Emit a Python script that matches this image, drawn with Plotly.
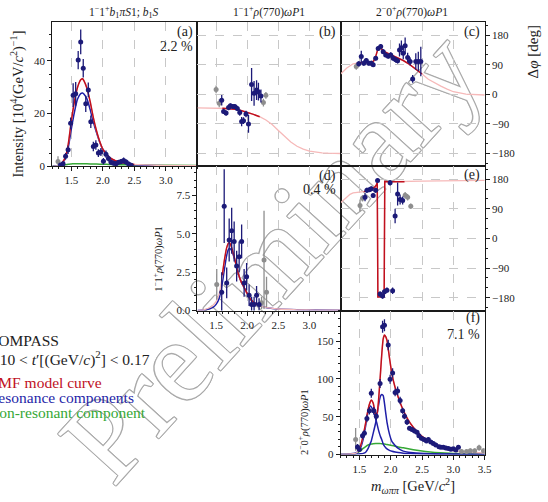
import plotly.graph_objects as go

# ---------------- measured points (mass bin centre, value, error) ----------------
# (a) 1-1+ b1 pi S1 intensity  [10^4 (GeV/c^2)^-1]
a_mass = [1.29, 1.33, 1.37, 1.41, 1.45, 1.49, 1.53, 1.57, 1.61, 1.65, 1.69, 1.73, 1.77, 1.81, 1.85,
          1.89, 1.93, 1.97, 2.01, 2.05, 2.09, 2.13, 2.17, 2.21, 2.25, 2.29, 2.33, 2.37, 2.41, 2.45]
a_int = [1.8, 0.5, 1.0, 3.8, 6.3, 16.3, 27.0, 27.5, 40.3, 47.2, 37.2, 23.7, 29.0, 16.9, 7.5,
         8.1, 5.0, 5.4, 1.9, 4.6, 3.0, 1.5, 1.2, 1.0, 1.5, 1.8, 2.2, 1.6, 0.9, 0.4]
a_err = [2.0, 0.6, 0.8, 1.2, 1.6, 2.2, 4.5, 4.5, 3.5, 4.7, 3.5, 3.1, 2.8, 2.4, 1.8,
         1.8, 1.5, 1.5, 1.2, 1.4, 1.2, 1.0, 0.9, 0.9, 0.9, 1.0, 1.1, 1.0, 0.8, 0.6]

# (b) phase 1-1+ rho omega P1 vs 1-1+ b1 pi S1  [deg]
b_mass = [1.50, 1.55, 1.59, 1.62, 1.66, 1.70, 1.73, 1.77, 1.80, 1.84, 1.88,
          1.91, 1.94, 1.98, 2.02, 2.07, 2.11, 2.15, 2.18, 2.22, 2.26, 2.30]
b_phase = [15, -27, -18, -52, -57, -40, -35, -37, -37, -43, -55,
           -83, -80, -60, -90, 30, 3, 13, 8, -5, -25, -3]
b_err = [12, 12, 16, 8, 8, 8, 7, 7, 7, 8, 10,
         14, 10, 10, 27, 50, 38, 30, 27, 20, 12, 10]

# (c) phase 2-0+ rho omega P1 vs 1-1+ b1 pi S1  [deg]
c_mass = [1.45, 1.49, 1.53, 1.57, 1.61, 1.65, 1.69, 1.72, 1.76, 1.80, 1.84, 1.88, 1.92, 1.96,
          2.00, 2.04, 2.08, 2.11, 2.14, 2.17, 2.20, 2.23, 2.27, 2.31, 2.35, 2.40, 2.44, 2.48]
c_phase = [85, 93, 115, 95, 103, 95, 95, 90, 110, 140, 146, 130, 120, 116,
           120, 110, 105, 102, 135, 142, 125, 148, 112, 100, 47, 100, 100, 100]
c_err = [10, 8, 18, 8, 8, 7, 7, 7, 7, 7, 7, 7, 7, 7,
         8, 8, 8, 8, 20, 22, 18, 25, 15, 12, 12, 25, 30, 45]

# (d) 1-1+ rho omega P1 intensity
d_mass = [1.51, 1.59, 1.63, 1.67, 1.71, 1.75, 1.79, 1.83, 1.87, 1.91,
          1.95, 1.99, 2.03, 2.07, 2.11, 2.15, 2.19, 2.23, 2.27, 2.31]
d_int = [1.7, 1.2, 6.8, 1.8, 4.6, 5.2, 4.5, 2.9, 3.5, 4.5,
         1.8, 2.2, 1.0, 0.4, 0.4, 1.0, 0.4, 0.5, 3.3, 1.2]
d_err = [1.0, 1.3, 2.4, 1.0, 1.4, 1.5, 1.3, 1.0, 1.0, 1.1,
         0.9, 0.9, 0.7, 0.5, 0.5, 0.6, 0.4, 0.4, 3.2, 1.0]

# (e) phase 2-0+ rho omega P1 vs 1-1+ rho omega P1  [deg]
e_mass = [1.51, 1.55, 1.59, 1.62, 1.66, 1.69, 1.72, 1.76, 1.79, 1.83, 1.87,
          1.90, 1.94, 1.99, 2.03, 2.07, 2.11, 2.15, 2.19, 2.23, 2.27, 2.32]
e_phase = [100, 122, 125, 146, 148, 151, 130, 146, 176, -169, -175,
           -162, -157, 169, -159, 68, 135, 118, 115, 131, 125, 98]
e_err = [18, 10, 12, 8, 7, 7, 7, 7, 6, 8, 8,
         8, 8, 8, 10, 22, 35, 15, 12, 10, 10, 8]

# (f) 2-0+ rho omega P1 intensity
f_mass = [1.44, 1.47, 1.50, 1.55, 1.58, 1.62, 1.66, 1.69, 1.73, 1.77,
          1.83, 1.87, 1.90, 1.96, 1.99, 2.03, 2.07, 2.11, 2.15, 2.19,
          2.22, 2.26, 2.30, 2.34, 2.38, 2.42, 2.45, 2.49, 2.53, 2.57,
          2.60, 2.64, 2.68, 2.72, 2.77, 2.80, 2.84, 2.88, 2.92, 2.96,
          3.00, 3.04, 3.08, 3.13, 3.21, 3.27, 3.34, 3.41, 3.48]
f_int = [20, 10, 6.5, 24.7, 28, 47.6, 58, 81, 58, 50.6,
         94, 169, 171, 145, 99.6, 108, 82, 84, 71.4, 58,
         50.6, 43, 34.6, 33, 31, 29.4, 24.7, 21.6, 20, 18,
         20, 16.5, 14.7, 12.5, 10.4, 9.5, 9.5, 8.6, 7.8, 6.9,
         7.5, 6.0, 9.5, 4, 4, 5, 5, 9, 5]
f_err = [15, 4, 3, 4, 4, 5, 5, 6, 5, 5,
         6, 8, 8, 7, 6, 6, 5, 6, 5, 4,
         4, 4, 3, 3, 3, 3, 3, 3, 2.5, 2.5,
         2.5, 2.5, 2.5, 2, 2, 2, 2, 2, 2, 2,
         2, 2, 2, 3, 3, 3, 3, 4, 3]

# fit ranges of the three waves [GeV/c^2]
range_a = (1.31, 2.50)
range_d = (1.57, 2.22)
range_f = (1.46, 3.10)

# ---------------- model curves ----------------
a_grid = [1.20, 1.25, 1.30, 1.35, 1.40, 1.45, 1.50, 1.55, 1.60, 1.65, 1.68, 1.70, 1.75,
          1.80, 1.85, 1.90, 1.95, 2.00, 2.10, 2.20, 2.30, 2.40, 2.50, 2.70, 3.00, 3.50]
a_model = [0.0, 0.1, 0.4, 1.2, 3.0, 8.0, 17.0, 24.5, 30.0, 32.8, 33.2, 32.5, 29.5,
           24.5, 18.5, 13.5, 9.5, 6.5, 3.5, 2.1, 1.4, 1.0, 0.7, 0.5, 0.3, 0.2]
a_reson = [0.0, 0.1, 0.3, 1.0, 2.6, 6.8, 14.0, 20.5, 25.5, 27.6, 27.8, 27.4, 25.5,
           21.5, 16.8, 12.8, 9.2, 6.5, 3.4, 2.0, 1.3, 0.9, 0.6, 0.35, 0.2, 0.1]
a_nonres = [0.0, 0.05, 0.2, 0.4, 0.6, 0.8, 0.9, 1.0, 1.0, 1.0, 1.0, 1.0, 0.95,
            0.9, 0.9, 0.85, 0.8, 0.8, 0.7, 0.65, 0.6, 0.55, 0.5, 0.45, 0.4, 0.3]

b_grid = [1.20, 1.30, 1.40, 1.50, 1.60, 1.70, 1.80, 1.90, 2.00, 2.10, 2.20, 2.30,
          2.40, 2.50, 2.60, 2.70, 2.80, 2.90, 3.00, 3.10, 3.20, 3.30, 3.40, 3.50]
b_model = [-41, -41, -41, -41, -42, -43, -45, -49, -54, -61, -68, -78,
           -92, -110, -128, -145, -158, -167, -173, -176, -178, -179, -180, -180]

c_grid = [1.20, 1.30, 1.40, 1.46, 1.50, 1.55, 1.60, 1.65, 1.70, 1.73, 1.76, 1.79, 1.82, 1.86,
          1.90, 2.00, 2.10, 2.20, 2.30, 2.40, 2.50, 2.60, 2.70, 2.80, 2.90, 3.00, 3.20, 3.50]
c_model = [62, 80, 93, 96, 96, 96, 96, 97, 98, 102, 115, 135, 143, 137,
           130, 121, 112, 103, 91, 77, 62, 46, 35, 25, 16, 8, 1, -2]

d_grid = [1.20, 1.30, 1.40, 1.45, 1.50, 1.55, 1.60, 1.63, 1.67, 1.70, 1.72, 1.75, 1.80,
          1.85, 1.90, 1.95, 2.00, 2.05, 2.10, 2.15, 2.22, 2.30, 2.50, 2.80, 3.10, 3.50]
d_model = [0.0, 0.05, 0.2, 0.35, 0.6, 1.1, 2.3, 3.2, 4.1, 4.4, 4.4, 4.1, 3.35,
           2.5, 1.9, 1.5, 1.1, 0.75, 0.55, 0.4, 0.3, 0.2, 0.1, 0.05, 0.03, 0.02]
d_reson = [0.0, 0.03, 0.12, 0.2, 0.4, 0.8, 1.8, 2.6, 3.6, 4.0, 4.05, 3.9, 3.3,
           2.5, 1.9, 1.5, 1.1, 0.75, 0.55, 0.4, 0.3, 0.2, 0.1, 0.05, 0.03, 0.02]

e_grid = [1.20, 1.25, 1.30, 1.35, 1.40, 1.50, 1.57, 1.60, 1.65, 1.70, 1.74, 1.77, 1.785, 1.795,
          1.82, 1.86, 1.895, 1.905, 1.95, 2.00, 2.10, 2.22, 2.30, 2.50, 2.80, 3.10, 3.50]
e_model = [108, 117, 127, 134, 138, 140, 142, 143, 146, 150, 155, 162, 170, -178,
           -177, -177, -177, 173, 172, 172, 172, 172, 173, 174, 175, 176, 176]

f_grid = [1.20, 1.30, 1.40, 1.45, 1.48, 1.52, 1.56, 1.60, 1.64, 1.67, 1.69, 1.72, 1.76, 1.78,
          1.80, 1.82, 1.84, 1.86, 1.88, 1.90, 1.92, 1.94, 1.98, 2.02, 2.07, 2.12, 2.20, 2.28,
          2.36, 2.47, 2.63, 2.79, 2.94, 3.05, 3.20, 3.50]
f_model = [0, 0.3, 1.0, 2.0, 4.5, 12, 25, 42, 60, 69, 72, 68, 53, 54,
           66, 88, 112, 136, 153, 158, 156, 151, 128, 106, 88.7, 75.7, 58.4, 45.5,
           36, 26, 17.3, 10.8, 6.5, 4.4, 3.2, 2.0]
f_res1 = [0, 0.3, 1.2, 2.5, 4, 9, 20, 38, 57, 64, 63, 58, 47, 41,
          34, 28, 23, 19, 14, 11, 9, 7.5, 5.5, 4.2, 3.2, 2.5, 1.8, 1.4,
          1.1, 0.8, 0.5, 0.35, 0.25, 0.2, 0.15, 0.1]
f_res2 = [0, 0.1, 0.3, 0.5, 0.7, 1, 1.5, 3, 8, 14, 18, 28, 42, 52,
          62, 72, 78, 79.5, 78, 68, 55, 43, 27, 17, 12, 8, 4.5, 3,
          2.2, 1.6, 1, 0.7, 0.5, 0.4, 0.3, 0.2]
f_nonres = [0, 0, 0.5, 1.5, 3, 5, 8, 10.5, 12.5, 13.3, 13.8, 14.2, 14.5, 14.6,
            14.6, 14.5, 14.4, 14.2, 14, 13.8, 13.5, 13.2, 12.6, 11.9, 11, 10, 8.8, 7.6,
            6.4, 5, 3.4, 2.3, 1.6, 1.2, 0.8, 0.4]

# ---------------- styling ----------------
W, H = 548, 502
SERIF = "Liberation Serif"
NAVY = "#1c1a78"
GRAY = "#8e8e8e"
RED = "#c0101e"
PINK = "#f6b9b9"
BLUE = "#1f1fa8"
GREEN = "#36a836"
FRAME = "#1a1a1a"


def px(x, y):
    return x / W, 1 - y / H


# panel edges in pixels
col_px = {1: (53, 200), 2: (200, 345), 3: (345, 491)}
row_px = {1: (22.7, 168.3), 2: (168.3, 314.3), 3: (314.3, 460)}

fig = go.Figure()


def intersect(r1, r2):
    return max(r1[0], r2[0]), min(r1[1], r2[1])


def add_points(mass, vals, errs, rng, ax):
    xa, ya = ax
    for inside, color in ((False, GRAY), (True, NAVY)):
        sel = [i for i, m in enumerate(mass) if (rng[0] <= m <= rng[1]) == inside]
        fig.add_trace(go.Scatter(
            x=[mass[i] for i in sel], y=[vals[i] for i in sel], mode="markers",
            marker=dict(color=color, size=5),
            error_y=dict(type="data", array=[errs[i] for i in sel], color=color,
                         thickness=1.3, width=0),
            xaxis=xa, yaxis=ya, showlegend=False, cliponaxis=True))


def add_curve(grid, vals, color, ax, shape="spline", width=1.5):
    xa, ya = ax
    fig.add_trace(go.Scatter(x=grid, y=vals, mode="lines",
                             line=dict(color=color, width=width, shape=shape, smoothing=0.6),
                             xaxis=xa, yaxis=ya, showlegend=False))


def add_model(grid, vals, rng, ax, shape="spline"):
    add_curve(grid, vals, PINK, ax, shape, 1.3)
    sel = [i for i, m in enumerate(grid) if rng[0] - 1e-9 <= m <= rng[1] + 1e-9]
    add_curve([grid[i] for i in sel], [vals[i] for i in sel], RED, ax, shape, 1.5)


AX = {"a": ("x", "y"), "b": ("x2", "y2"), "c": ("x3", "y3"),
      "d": ("x4", "y4"), "e": ("x5", "y5"), "f": ("x6", "y6")}

# (a)
add_curve(a_grid, a_nonres, GREEN, AX["a"])
add_curve(a_grid, a_reson, BLUE, AX["a"])
add_model(a_grid, a_model, range_a, AX["a"])
add_points(a_mass, a_int, a_err, range_a, AX["a"])
# (b)
add_model(b_grid, b_model, intersect(range_a, range_d), AX["b"], "linear")
add_points(b_mass, b_phase, b_err, intersect(range_a, range_d), AX["b"])
# (c)
add_model(c_grid, c_model, intersect(range_a, range_f), AX["c"], "linear")
add_points(c_mass, c_phase, c_err, intersect(range_a, range_f), AX["c"])
# (d)
add_curve(d_grid, d_reson, BLUE, AX["d"])
add_model(d_grid, d_model, range_d, AX["d"])
add_points(d_mass, d_int, d_err, range_d, AX["d"])
# (e)
add_model(e_grid, e_model, intersect(range_d, range_f), AX["e"], "linear")
add_points(e_mass, e_phase, e_err, intersect(range_d, range_f), AX["e"])
# (f)
add_curve(f_grid, f_nonres, GREEN, AX["f"])
add_curve(f_grid, f_res1, BLUE, AX["f"])
add_curve(f_grid, f_res2, BLUE, AX["f"])
add_model(f_grid, f_model, range_f, AX["f"])
add_points(f_mass, f_int, f_err, range_f, AX["f"])

# ---------------- axes ----------------
tick_font = dict(family=SERIF, size=11, color="#222")
mass_ticks = [1.5, 2.0, 2.5, 3.0]
phase_ticks = [-180, -90, 0, 90, 180]


def base_axis(domain):
    return dict(domain=domain, showline=True, mirror=True, linecolor=FRAME, linewidth=1,
                zeroline=False, tickfont=tick_font, ticks="outside", ticklen=4,
                tickwidth=1, tickcolor=FRAME, gridcolor="#c8c8c8", griddash="dash",
                gridwidth=1)


def x_axis(col, anchor, labels, vals=mass_ticks):
    d = base_axis([col_px[col][0] / W, col_px[col][1] / W])
    d.update(range=[1.2, 3.5], anchor=anchor, tickmode="array", tickvals=vals,
             ticktext=[f"{v:.1f}" for v in vals], showgrid=True, showticklabels=labels)
    if labels:
        d["minor"] = dict(tickmode="linear", tick0=1.2, dtick=0.1, ticks="outside",
                          ticklen=2, tickcolor=FRAME, showgrid=False)
    else:
        d["ticks"] = ""
    return d


def y_axis(row, anchor, rng, vals, text, minor, side="left", labels=True, grid=False):
    d = base_axis([1 - row_px[row][1] / H, 1 - row_px[row][0] / H])
    d.update(range=rng, anchor=anchor, side=side, tickmode="array", tickvals=vals,
             ticktext=text, showgrid=grid, showticklabels=labels)
    if labels:
        d["minor"] = dict(tickmode="linear", tick0=0, dtick=minor, ticks="outside",
                          ticklen=2, tickcolor=FRAME, showgrid=False)
    else:
        d["ticks"] = ""
    return d


phase_text = ["\u2212180", "\u221290", "0", "90", "180"]
phase_rng = [-219, 219]

fig.update_layout(
    xaxis=x_axis(1, "y", True),
    yaxis=y_axis(1, "x", [0, 54.6], [0, 20, 40], ["0", "20", "40"], 5),
    xaxis2=x_axis(2, "y2", False),
    yaxis2=y_axis(1, "x2", phase_rng, phase_ticks, phase_text, 30, labels=False, grid=True),
    xaxis3=x_axis(3, "y3", False),
    yaxis3=y_axis(1, "x3", phase_rng, phase_ticks, phase_text, 30, side="right", grid=True),
    xaxis4=x_axis(2, "y4", True),
    yaxis4=y_axis(2, "x4", [0, 9.4], [0, 2.5, 5, 7.5], ["0.0", "2.5", "5.0", "7.5"], 0.5),
    xaxis5=x_axis(3, "y5", False),
    yaxis5=y_axis(2, "x5", phase_rng, phase_ticks, phase_text, 30, side="right", grid=True),
    xaxis6=x_axis(3, "y6", True, [1.5, 2.0, 2.5, 3.0, 3.5]),
    yaxis6=y_axis(3, "x6", [0, 190.5], [0, 50, 100, 150], ["0", "50", "100", "150"], 10),
)

# ---------------- text ----------------
ann = []


def text(x, y, s, size=11, color="#222", xanchor="center", angle=0, yanchor="middle"):
    xp, yp = px(x, y)
    ann.append(dict(x=xp, y=yp, xref="paper", yref="paper", text=s, showarrow=False,
                    xanchor=xanchor, yanchor=yanchor, textangle=angle,
                    font=dict(family=SERIF, size=size, color=color)))


wave_a = "1<sup>\u2212</sup>1<sup>+</sup><i>b</i><sub>1</sub><i>\u03c0S</i>1; <i>b</i><sub>1</sub><i>S</i>"
wave_d = "1<sup>\u2212</sup>1<sup>+</sup><i>\u03c1</i>(770)<i>\u03c9P</i>1"
wave_f = "2<sup>\u2212</sup>0<sup>+</sup><i>\u03c1</i>(770)<i>\u03c9P</i>1"

text(126, 12, wave_a, 11.5)
text(272, 12, wave_d, 11.5)
text(417, 12, wave_f, 11.5)

text(198, 32, "(a)", 14, xanchor="right")
text(198, 47, "2.2 %", 14, xanchor="right")
text(342, 32, "(b)", 14, xanchor="right")
text(488, 32, "(c)", 14, xanchor="right")
text(342, 178, "(d)", 14, xanchor="right")
text(342, 192, "0.4 %", 14, xanchor="right")
text(488, 177, "(e)", 14, xanchor="right")
text(488, 322, "(f)", 14, xanchor="right")
text(488, 339, "7.1 %", 14, xanchor="right")

text(18, 105, "Intensity [10<sup>4</sup>(GeV/<i>c</i><sup>2</sup>)<sup>\u22121</sup>]", 14.5, angle=-90)
text(160, 262, wave_d, 10.5, angle=-90)
text(307, 427, wave_f, 10.5, angle=-90)
text(540, 53, "\u0394<i>\u03c6</i> [deg]", 15, angle=-90)
text(418, 492, "<i>m</i><sub><i>\u03c9\u03c0\u03c0</i></sub> [GeV/<i>c</i><sup>2</sup>]", 14.5)

text(-14, 345, "COMPASS", 15.5, xanchor="left")
text(-14, 363, "0.10 &lt; <i>t</i>\u2032[(GeV/<i>c</i>)<sup>2</sup>] &lt; 0.17", 15.5, xanchor="left")
text(-14, 387, "RMF model curve", 15.5, RED, xanchor="left")
text(-14, 402, "Resonance components", 15.5, BLUE, xanchor="left")
text(-14, 417, "Non-resonant component", 15.5, GREEN, xanchor="left")

# outlined watermark, placed underneath grid, curves and points
outline = ", ".join(f"{dx}px {dy}px 0 #ababab" for dx, dy in
                    [(1, 0), (-1, 0), (0, 1), (0, -1), (1, 1), (-1, -1), (1, -1), (-1, 1)])
wx0, wy0 = px(63, 472)
wx1, wy1 = px(467, 28)
mark = dict(type="line", xref="paper", yref="paper", x0=wx0, y0=wy0, x1=wx1, y1=wy1,
            layer="below", line=dict(width=0, color="rgba(0,0,0,0)"),
            label=dict(text="Preliminary", textposition="middle", yanchor="middle",
                       font=dict(family=SERIF, size=118, color="white", shadow=outline)))
try:
    fig.add_shape(**mark)
except ValueError:
    mark["label"]["font"] = dict(family=SERIF, size=118, color="rgba(150,150,150,0.35)")
    fig.add_shape(**mark)

fig.update_layout(
    annotations=ann,
    width=W, height=H, margin=dict(l=0, r=0, t=0, b=0),
    paper_bgcolor="white", plot_bgcolor="rgba(0,0,0,0)", showlegend=False,
)

fig.write_html("out.html")
